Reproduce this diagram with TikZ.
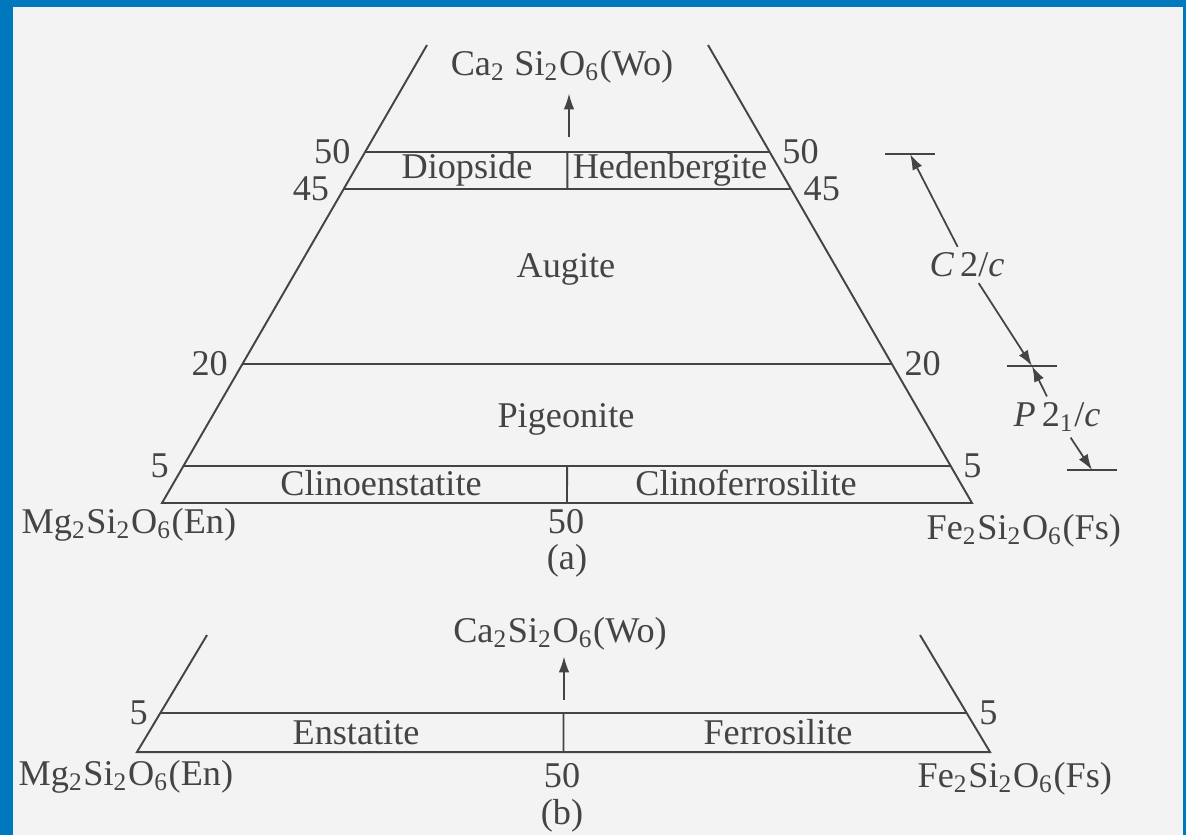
\documentclass[tikz,border=0pt]{standalone}
\usepackage{fontspec}
\setmainfont{Liberation Serif}
\usetikzlibrary{arrows.meta,positioning,calc}
\definecolor{ink}{HTML}{444444}
\definecolor{paper}{HTML}{F3F3F3}
\definecolor{frame}{HTML}{0078BE}
\tikzset{ln/.style={draw=ink,line width=0.55pt},arr/.style={-{Latex[length=4.5pt,width=3pt]},draw=ink,line width=0.5pt},lab/.style={font=\fontsize{10.3}{12}\selectfont,text=ink,inner sep=0pt}}
\newcommand{\pyx}[2]{#1\textsubscript{2}Si\textsubscript{2}O\textsubscript{6}(#2)}
\begin{document}
\begin{tikzpicture}[x=0.01cm,y=-0.01cm]
\fill[frame] (0,0) rectangle (1186,835);
\fill[paper] (13,7) rectangle (1183,835);
\useasboundingbox (0,0) rectangle (1186,835);
% (a) clinopyroxenes
\coordinate (En) at (162,503);
\coordinate (Fs) at (972,503);
\coordinate (Lt) at (427,45);
\coordinate (Rt) at (708,45);
\draw[ln] (Lt) -- (En) -- (Fs) -- (Rt);
\foreach \f/\n in {0.7664/50,0.6856/45,0.3035/20,0.0808/5}{\draw[ln] ($(En)!\f!(Lt)$) coordinate (l\n) -- ($(Fs)!\f!(Rt)$) coordinate (r\n);\node[lab,anchor=east] (nl\n) at ([shift={(-14,0)}]l\n) {\n};\node[lab,anchor=west] (nr\n) at ([shift={(12,0)}]r\n) {\n};}
\draw[ln] ($(l50)!0.5!(r50)$) -- ($(l45)!0.5!(r45)$);
\draw[ln] ($(l5)!0.5!(r5)$) -- ($(En)!0.5!(Fs)$);
\node[lab,anchor=base] (woA) at (562,75) {Ca\textsubscript{2} Si\textsubscript{2}O\textsubscript{6}(Wo)};
\coordinate (wa) at (569,137);
\draw[arr,shorten >=0.1cm] (wa) -- (wa |- woA.south);
\node[lab,anchor=base] (diop) at (467,178) {Diopside};
\node[lab,anchor=base] (hed) at (670,178) {Hedenbergite};
\node[lab,anchor=base] (aug) at (566,277) {Augite};
\node[lab,anchor=base] (pig) at (566,427) {Pigeonite};
\node[lab,anchor=base] (cen) at (381,495) {Clinoenstatite};
\node[lab,anchor=base] (cfs) at (746,495) {Clinoferrosilite};
\node[lab,anchor=base] (fifA) at (566,533) {50};
\node[lab,anchor=base] (capA) at (567,569) {(a)};
\node[lab,anchor=base west] (enA) at (21,533) {\pyx{Mg}{En}};
\node[lab,anchor=base west] (fsA) at (926,539) {\pyx{Fe}{Fs}};
% space groups
\coordinate (t1) at (910,154);
\coordinate (t2) at (1032,366);
\coordinate (t3) at (1092,470);
\foreach \t in {t1,t2,t3}{\draw[ln] ([shift={(-25,0)}]\t) -- ([shift={(25,0)}]\t);}
\node[lab,inner sep=1.5pt] (c2c) at (967,265) {\textit{C}\,2/\textit{c}};
\node[lab,inner sep=1.5pt] (p21c) at (1057,417) {\textit{P}\,2\textsubscript{1}/\textit{c}};
\draw[arr] (c2c) -- (t1);
\draw[arr] (c2c) -- (t2);
\draw[arr] (p21c) -- (t2);
\draw[arr] (p21c) -- (t3);
% (b) orthopyroxenes
\coordinate (Eb) at (137,752);
\coordinate (Fb) at (990,752);
\coordinate (Lb) at (207,635);
\coordinate (Rb) at (920,635);
\draw[ln] (Lb) -- (Eb) -- (Fb) -- (Rb);
\draw[ln] ($(Eb)!0.333!(Lb)$) coordinate (lb5) -- ($(Fb)!0.333!(Rb)$) coordinate (rb5);
\draw[ln] ($(lb5)!0.5!(rb5)$) -- ($(Eb)!0.5!(Fb)$);
\node[lab,anchor=east] (nlb5) at ([shift={(-12,0)}]lb5) {5};
\node[lab,anchor=west] (nrb5) at ([shift={(12,0)}]rb5) {5};
\node[lab,anchor=base] (woB) at (560,642) {\pyx{Ca}{Wo}};
\coordinate (wb) at (564,700);
\draw[arr,shorten >=0.06cm] (wb) -- (wb |- woB.south);
\node[lab,anchor=base] (ens) at (356,744) {Enstatite};
\node[lab,anchor=base] (fer) at (778,744) {Ferrosilite};
\node[lab,anchor=base] (fifB) at (562,787) {50};
\node[lab,anchor=base] (capB) at (562,824) {(b)};
\node[lab,anchor=base west] (enB) at (18,785) {\pyx{Mg}{En}};
\node[lab,anchor=base west] (fsB) at (917,787) {\pyx{Fe}{Fs}};
\end{tikzpicture}
\end{document}
